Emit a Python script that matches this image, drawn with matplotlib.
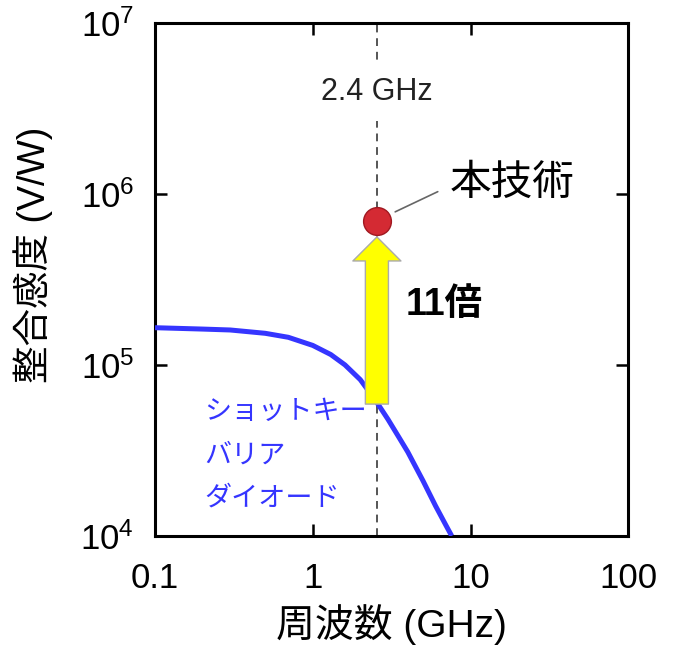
import matplotlib
matplotlib.use("Agg")
import matplotlib.pyplot as plt

plt.rcParams['font.family'] = ['Liberation Sans', 'Noto Sans CJK JP', 'DejaVu Sans']
plt.rcParams['mathtext.fontset'] = 'custom'
plt.rcParams['mathtext.rm'] = 'Liberation Sans'

# Schottky barrier diode curve
sbd_freq = [0.1, 0.2, 0.3, 0.5, 0.7, 1.0, 1.3, 1.6, 2.0, 2.5, 3.0, 3.5, 4.0, 5.0, 6.0, 7.0, 7.6]
sbd_sens = [1.65e5, 1.62e5, 1.6e5, 1.53e5, 1.45e5, 1.3e5, 1.15e5, 1.0e5, 8.2e4,
            6.2e4, 4.8e4, 3.8e4, 3.1e4, 2.1e4, 1.5e4, 1.15e4, 1.0e4]

# this work at 2.4 GHz
mark_freq = 2.55
new_sens = 6.9e5
arrow_tip = 5.6e5
arrow_base = 5.9e4

x_ticks = [0.1, 1, 10, 100]
x_ticklabels = ['0.1', '1', '10', '100']

fig = plt.figure(figsize=(6.77, 6.52), dpi=100)
ax = fig.add_axes([0.229, 0.178, 0.699, 0.787])

ax.plot(sbd_freq, sbd_sens, color='#3535ff', lw=3.6, solid_capstyle='butt', zorder=3)
ax.axvline(mark_freq, color='#555555', lw=1.4, ls=(0, (4, 3)), zorder=1)

ax.annotate('', xy=(mark_freq, arrow_tip), xytext=(mark_freq, arrow_base),
            arrowprops=dict(arrowstyle='simple,head_width=3.46,head_length=1.73,tail_width=1.66',
                            mutation_scale=10, fc='#ffff00', ec='#aaaaaa', lw=1,
                            shrinkA=0, shrinkB=0), zorder=4)

ax.plot([mark_freq], [new_sens], 'o', ms=20, mfc='#d42a33', mec='#a01820', mew=1, zorder=5)
# leader line to the label
ax.annotate('', xy=(3.33, 7.85e5), xytext=(6.2, 1.03e6),
            arrowprops=dict(arrowstyle='-', color='#666666', lw=1.2, shrinkA=0, shrinkB=0))
ax.text(7.4, 1.14e6, '本技術', fontsize=30, va='center', ha='left')

ax.text(mark_freq, 3.95e6, '2.4 GHz', fontsize=22, ha='center', va='center',
        color='#222222', bbox=dict(fc='white', ec='none', pad=10))
ax.text(3.85, 2.24e5, '11倍', fontsize=27, fontweight='bold', ha='left', va='center')
ax.text(0.205, 6.3e4, 'ショットキー\nバリア\nダイオード', fontsize=19.5, color='#3535ff',
        ha='left', va='top', linespacing=1.85)

ax.set_xscale('log')
ax.set_yscale('log')
ax.set_xlim(0.1, 100)
ax.set_ylim(1e4, 1e7)
ax.set_xticks(x_ticks)
ax.set_xticklabels(x_ticklabels)
ax.minorticks_off()
ax.tick_params(which='major', direction='in', length=8.5, width=1.8, labelsize=25,
               top=True, right=True, pad=19)
ax.tick_params(axis='y', pad=15)
for s in ax.spines.values():
    s.set_linewidth(2.2)

ax.set_xlabel('周波数 (GHz)', fontsize=28, labelpad=6)
ax.set_ylabel('整合感度 (V/W)', fontsize=27)
ax.yaxis.set_label_coords(-0.216, 0.548)

fig.savefig('out.png', dpi=100)
